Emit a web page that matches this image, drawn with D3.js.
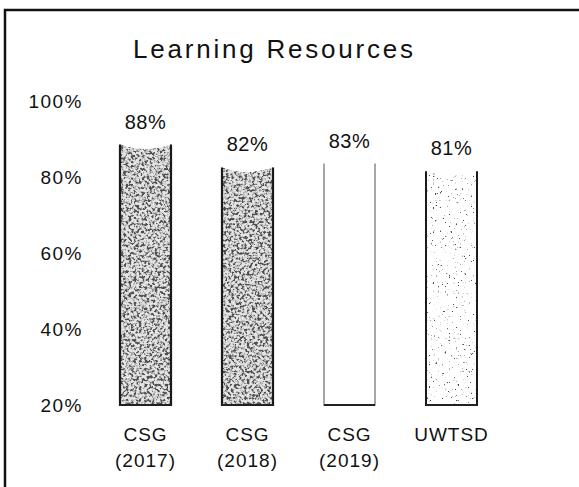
<!DOCTYPE html>
<html>
<head>
<meta charset="utf-8">
<script src="https://cdn.jsdelivr.net/npm/d3@7"></script>
<style>
  body { margin: 0; background: #fff; }
  svg text { font-family: "Liberation Sans", Arial, sans-serif; fill: #111; }
</style>
</head>
<body>
<div id="bar_chart"></div>
<script>
// chart data
var chart_title = "Learning Resources";
var cat_line1 = ["CSG", "CSG", "CSG", "UWTSD"];
var cat_line2 = ["(2017)", "(2018)", "(2019)", ""];
var values = [88, 82, 83, 81];
var y_ticks = [20, 40, 60, 80, 100];

// look of each bar (texture filter, side colour)
var bar_look = [
  {filter: "url(#speckleDark)", fill: "#bbb", side: "#1a1a1a", sideW: 2.2},
  {filter: "url(#speckleDark)", fill: "#bbb", side: "#1a1a1a", sideW: 2.2},
  {filter: null, fill: "#fff", side: "#777", sideW: 1.3},
  {filter: "url(#speckleLight)", fill: "#fff", side: "#1a1a1a", sideW: 2}
];

var W = 579, H = 487;

var svg = d3.select("#bar_chart")
    .append("svg")
    .attr("width", W)
    .attr("height", H);

var defs = svg.append("defs");

// speckled texture like the scanned original
function addSpeckle(id, bg, k, b, seed, freq) {
  var f = defs.append("filter").attr("id", id)
      .attr("x", 0).attr("y", 0).attr("width", 1).attr("height", 1);
  f.append("feTurbulence").attr("type", "fractalNoise")
      .attr("baseFrequency", freq).attr("numOctaves", 3).attr("seed", seed)
      .attr("result", "noise");
  f.append("feColorMatrix").attr("in", "noise").attr("type", "matrix")
      .attr("values", "0 0 0 0 0.08  0 0 0 0 0.08  0 0 0 0 0.08  " + k + " 0 0 0 " + b)
      .attr("result", "dots");
  f.append("feFlood").attr("flood-color", bg).attr("result", "bg");
  f.append("feComposite").attr("in", "dots").attr("in2", "bg")
      .attr("operator", "over").attr("result", "mix");
  f.append("feComposite").attr("in", "mix").attr("in2", "SourceGraphic")
      .attr("operator", "in");
}
addSpeckle("speckleDark", "#e4e4e4", 5, -2.2, 7, 0.38);
addSpeckle("speckleLight", "#ffffff", 10, -6.8, 3, 0.45);

// frame (only top and left visible in the picture)
svg.append("path")
    .attr("d", "M5," + H + "V10H" + W)
    .attr("fill", "none")
    .attr("stroke", "#111")
    .attr("stroke-width", 2.5);

// title
svg.append("text")
    .attr("x", 273)
    .attr("y", 58)
    .attr("text-anchor", "middle")
    .attr("font-size", 26)
    .attr("textLength", 280)
    .attr("lengthAdjust", "spacing")
    .text(chart_title);

// scales
var x = d3.scaleBand()
    .domain(d3.range(values.length))
    .range([94.5, 502.5])
    .paddingInner(0.5)
    .paddingOuter(0.25);

var y = d3.scaleLinear()
    .domain([20, 100])
    .range([405, 101]);

// y axis, labels only
var yAxis = svg.append("g")
    .attr("transform", "translate(85,0)")
    .call(d3.axisLeft(y)
        .tickValues(y_ticks)
        .tickSize(0)
        .tickPadding(2)
        .tickFormat(function(d) { return d + "%"; }));
yAxis.select(".domain").remove();
yAxis.selectAll("text")
    .attr("font-size", 19)
    .attr("letter-spacing", 1.5)
    .attr("fill", "#111")
    .style("font-family", "'Liberation Sans', Arial, sans-serif");

// bars with slightly dished tops
var bars = svg.append("g");
values.forEach(function(v, i) {
  var x0 = x(i), x1 = x(i) + x.bandwidth(), xc = x0 + x.bandwidth() / 2;
  var top = y(v), base = y(20);
  var look = bar_look[i];
  var body = "M" + x0 + "," + base + "V" + (top - 2) +
      "Q" + xc + "," + (top + 7) + " " + x1 + "," + (top - 2) + "V" + base + "Z";
  var p = bars.append("path")
      .attr("d", body)
      .attr("fill", look.fill);
  if (look.filter) p.attr("filter", look.filter);
  bars.append("path")
      .attr("d", "M" + x0 + "," + (top - 2) + "V" + base + "H" + x1 + "V" + (top - 2))
      .attr("fill", "none")
      .attr("stroke", look.side)
      .attr("stroke-width", look.sideW);
  // darker bottom edge
  bars.append("line")
      .attr("x1", x0).attr("x2", x1)
      .attr("y1", base).attr("y2", base)
      .attr("stroke", "#222")
      .attr("stroke-width", 2);
});

// value labels
svg.append("g").selectAll("text")
    .data(values)
    .enter().append("text")
    .attr("x", function(d, i) { return x(i) + x.bandwidth() / 2; })
    .attr("y", function(d) { return y(d) - 18; })
    .attr("text-anchor", "middle")
    .attr("font-size", 20)
    .attr("letter-spacing", 0.5)
    .text(function(d) { return d + "%"; });

// category labels, two lines
var cats = svg.append("g").selectAll("text")
    .data(cat_line1)
    .enter().append("text")
    .attr("text-anchor", "middle")
    .attr("font-size", 19)
    .attr("letter-spacing", 1);
cats.append("tspan")
    .attr("x", function(d, i) { return x(i) + x.bandwidth() / 2; })
    .attr("y", 441)
    .text(function(d) { return d; });
cats.append("tspan")
    .attr("x", function(d, i) { return x(i) + x.bandwidth() / 2; })
    .attr("y", 467)
    .text(function(d, i) { return cat_line2[i]; });
</script>
</body>
</html>
